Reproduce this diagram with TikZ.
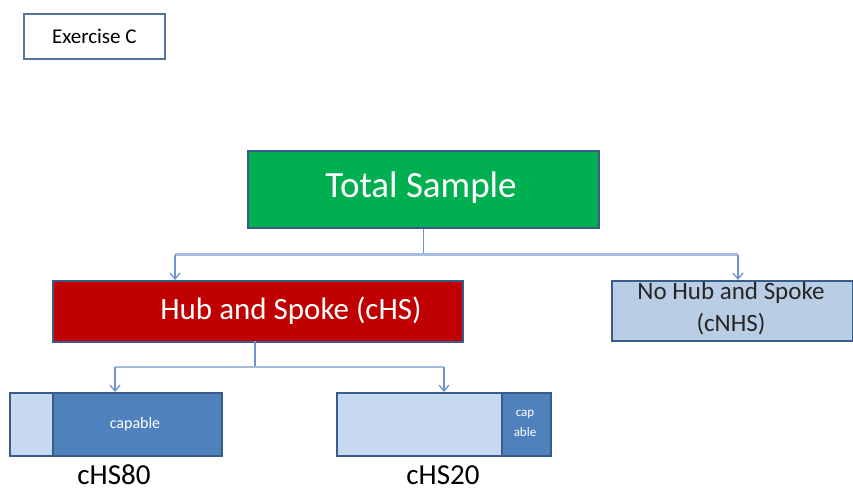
\documentclass[tikz,border=0pt]{standalone}
\usepackage{fontspec}
\setmainfont{Carlito}
\usetikzlibrary{arrows.meta,positioning}

\definecolor{edge}{HTML}{385D8A}
\definecolor{wire}{HTML}{6F94CC}
\definecolor{wirelight}{HTML}{A3BCE0}
\definecolor{tsgreen}{HTML}{00B050}
\definecolor{hubred}{HTML}{C00000}
\definecolor{paleblue}{HTML}{B9CDE5}
\definecolor{lightfill}{HTML}{C6D9F0}
\definecolor{midblue}{HTML}{4F81BD}

\tikzset{
  box/.style={draw=edge, line width=1.6pt, inner sep=0pt, anchor=north west},
  drop/.style={draw=wire, line width=1.4pt, -{Straight Barb[length=6pt,width=10pt,line width=1.3pt]}},
  stem/.style={draw=wire, line width=1.4pt},
  rail/.style={draw=wirelight, line width=2.6pt},
  tag/.style={inner sep=0pt},
}

\begin{document}
\begin{tikzpicture}[x=1pt,y=-1pt]
  \useasboundingbox (0,0) rectangle (853,493);

  % title tag
  \node[box, draw=edge!85, minimum width=141pt, minimum height=45pt,
        font=\fontsize{21}{24}\selectfont] (tag) at (23,13) {Exercise C};

  % root
  \node[box, fill=tsgreen, minimum width=351pt, minimum height=77pt] (ts) at (247,150) {};
  \node[text=white, font=\fontsize{37}{40}\selectfont] (tstext) at (421,188) {Total Sample};

  % second level
  \node[box, fill=hubred, minimum width=410pt, minimum height=61pt] (hub) at (52,280) {};
  \node[text=white, font=\fontsize{31}{34}\selectfont] (hubtext) at (291,311) {Hub and Spoke (cHS)};

  \node[box, fill=paleblue, minimum width=241pt, minimum height=60pt] (nohub) at (611,280) {};
  \node[align=center, text=black!85, font=\fontsize{25}{32}\selectfont] (nohubtext) at (731,309)
       {No Hub and Spoke\\(cNHS)};

  % third level: cHS80
  \node[box, fill=midblue, minimum width=212pt, minimum height=63pt] (c80) at (9,392) {};
  \node[box, fill=lightfill, minimum width=43pt, minimum height=63pt] (c80a) at (9,392) {};
  \node[text=white, font=\fontsize{16}{18}\selectfont] (c80text) at (135,424) {capable};
  \node[tag, font=\fontsize{29}{31}\selectfont] (c80lab) at (114,475) {cHS80};

  % third level: cHS20
  \node[box, fill=lightfill, minimum width=214pt, minimum height=63pt] (c20) at (336,392) {};
  \node[box, fill=midblue, minimum width=49pt, minimum height=63pt] (c20b) at (501,392) {};
  \node[align=center, text=white, font=\fontsize{13}{20}\selectfont] (c20text) at (525,423) {cap\\able};
  \node[tag, font=\fontsize{29}{31}\selectfont] (c20lab) at (443,475) {cHS20};

  % connector end points
  \coordinate (hubin) at (175,280);
  \coordinate (nohubin) at (738,280);
  \coordinate (c80in) at (115,392);
  \coordinate (c20in) at (444,392);
  \coordinate (hubout) at (255,341);

  % connectors from the root
  \draw[stem] (ts.south) -- ++(0,26) coordinate (split1);
  \draw[rail] (split1 -| hubin) -- (split1 -| nohubin);
  \draw[drop] (split1 -| hubin) -- (hubin);
  \draw[drop] (split1 -| nohubin) -- (nohubin);

  % connectors from Hub and Spoke
  \draw[stem] (hubout) -- ++(0,26) coordinate (split2);
  \draw[rail] (split2 -| c80in) -- (split2 -| c20in);
  \draw[drop] (split2 -| c80in) -- (c80in);
  \draw[drop] (split2 -| c20in) -- (c20in);
\end{tikzpicture}
\end{document}
